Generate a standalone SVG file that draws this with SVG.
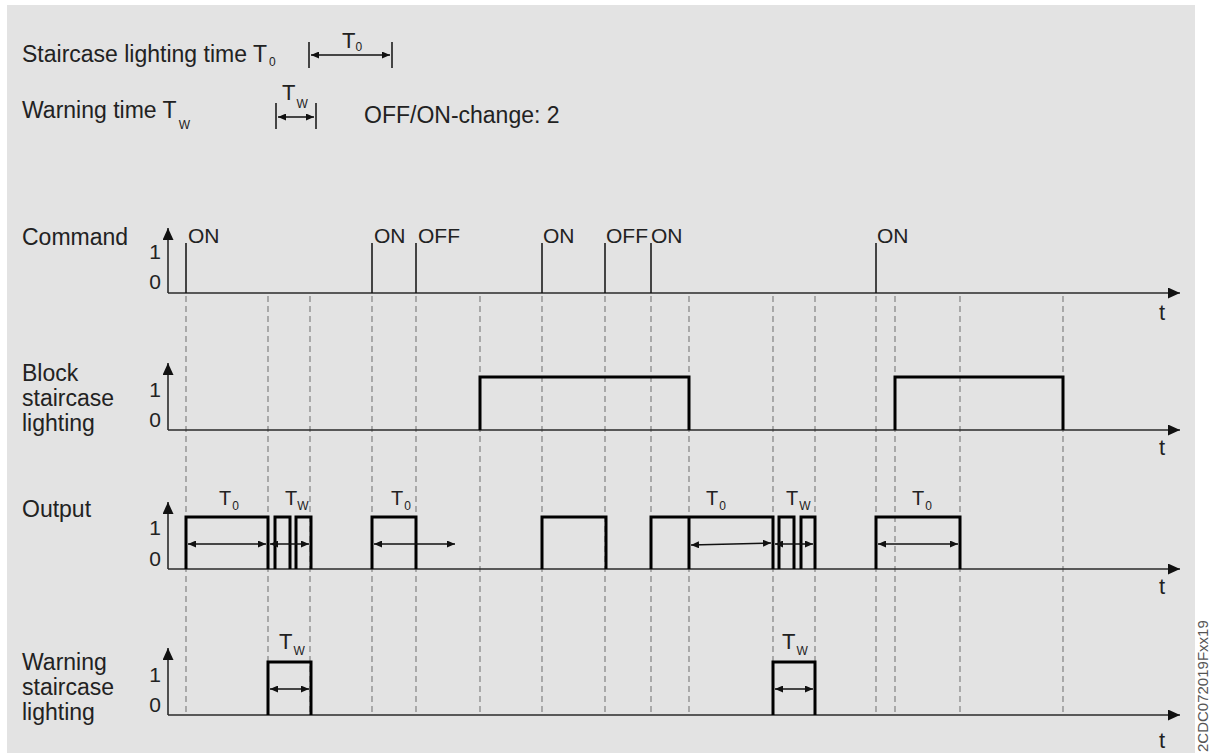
<svg xmlns="http://www.w3.org/2000/svg" width="1209" height="753" viewBox="0 0 1209 753">
<defs>
<marker id="ah" viewBox="0 0 8 7" refX="8" refY="3.5" markerWidth="8" markerHeight="7" markerUnits="userSpaceOnUse" orient="auto-start-reverse"><path d="M0,0 L8,3.5 L0,7 z" fill="#111"/></marker>
<marker id="axh" viewBox="0 0 12 11" refX="12" refY="5.5" markerWidth="12" markerHeight="11" markerUnits="userSpaceOnUse" orient="auto"><path d="M0,0 L12,5.5 L0,11 z" fill="#111"/></marker>
<style>
text{font-family:"Liberation Sans",Arial,sans-serif;fill:#222}
.lbl{font-size:23px}
.cmd{font-size:21px}
.big{font-size:20px}
.lbig{font-size:22px}
.sub{font-size:12px}
.num{font-size:21px;text-anchor:end}
.t{font-size:22px;text-anchor:middle}
.axis{stroke:#2a2a2a;stroke-width:1.6;fill:none}
.pulse{stroke:#000;stroke-width:3;fill:none;stroke-linejoin:miter}
.thin{stroke:#111;stroke-width:1.5;fill:none}
.dash{stroke:#7a7a7a;stroke-width:1.1;stroke-dasharray:6 4;fill:none}
.dim{stroke:#111;stroke-width:1.4;fill:none;marker-start:url(#ah);marker-end:url(#ah)}
.bar{stroke:#111;stroke-width:1.5}
</style>
</defs>
<rect x="0" y="0" width="1209" height="753" fill="#ffffff"/>
<rect x="7" y="5" width="1188" height="748" fill="#e3e3e3"/>

<g id="legend">
<text class="lbl" x="22" y="62">Staircase lighting time T<tspan class="sub" dx="2" dy="4">0</tspan></text>
<line class="bar" x1="309" y1="42" x2="309" y2="68"/>
<line class="bar" x1="392" y1="42" x2="392" y2="68"/>
<line class="dim" x1="311" y1="55" x2="390" y2="55"/>
<text class="lbig" x="342" y="48">T<tspan class="sub" dx="0" dy="3">0</tspan></text>
<text class="lbl" x="22" y="118">Warning time T<tspan class="sub" dx="2" dy="11">W</tspan></text>
<line class="bar" x1="276" y1="103" x2="276" y2="129"/>
<line class="bar" x1="316" y1="103" x2="316" y2="129"/>
<line class="dim" x1="278" y1="117" x2="314" y2="117"/>
<text class="lbig" x="282" y="100">T<tspan class="sub" dx="1" dy="8">W</tspan></text>
<text class="lbl" x="364" y="123">OFF/ON-change: 2</text>
</g>

<g id="connectors">
<path class="dash" d="M186,296V715M268,296V715M310,296V715M372,296V715M416,296V715M480,296V715M542,296V715M605,296V715M651,296V715M689,296V715M773,296V715M815,296V715M876,296V715M895,296V715M960,296V715M1063,296V715"/>
</g>

<g id="row-command">
<text class="lbl" x="22" y="245">Command</text>
<text class="num" x="161" y="259">1</text>
<text class="num" x="161" y="289">0</text>
<line class="axis" x1="168" y1="293" x2="168" y2="228" marker-end="url(#axh)"/>
<line class="axis" x1="168" y1="293" x2="1180" y2="293" marker-end="url(#axh)"/>
<text class="t" x="1162" y="320">t</text>
<path class="thin" d="M186,243V293M372,243V293M416,243V293M542,243V293M605,243V293M651,243V293M876,243V293"/>
<text class="cmd" x="188" y="243">ON</text>
<text class="cmd" x="374" y="243">ON</text>
<text class="cmd" x="418" y="243">OFF</text>
<text class="cmd" x="543" y="243">ON</text>
<text class="cmd" x="606" y="243">OFF</text>
<text class="cmd" x="651" y="243">ON</text>
<text class="cmd" x="877" y="243">ON</text>
</g>

<g id="row-block">
<text class="lbl" x="22" y="381">Block</text>
<text class="lbl" x="22" y="406">staircase</text>
<text class="lbl" x="22" y="431">lighting</text>
<text class="num" x="161" y="397">1</text>
<text class="num" x="161" y="427">0</text>
<line class="axis" x1="168" y1="430" x2="168" y2="363" marker-end="url(#axh)"/>
<line class="axis" x1="168" y1="430" x2="1180" y2="430" marker-end="url(#axh)"/>
<text class="t" x="1162" y="455">t</text>
<path class="pulse" d="M480,430V377H689V430M895,430V377H1063V430"/>
</g>

<g id="row-output">
<text class="lbl" x="22" y="517">Output</text>
<text class="num" x="161" y="535">1</text>
<text class="num" x="161" y="566">0</text>
<line class="axis" x1="168" y1="569" x2="168" y2="502" marker-end="url(#axh)"/>
<line class="axis" x1="168" y1="569" x2="1180" y2="569" marker-end="url(#axh)"/>
<text class="t" x="1162" y="594">t</text>
<path class="pulse" d="M186,569V517H268V569M275,569V517H290V569M296,569V517H311V569M372,569V517H416V569M542,569V517H606V569M651,569V517H773V569M689,517V569M779,569V517H794V569M801,569V517H815V569M876,569V517H960V569"/>
<line class="dim" x1="188" y1="544" x2="266" y2="544"/>
<line class="dim" x1="270" y1="544" x2="309" y2="544"/>
<line class="dim" x1="374" y1="544" x2="455" y2="544"/>
<line class="dim" x1="691" y1="545" x2="771" y2="543"/>
<line class="dim" x1="775" y1="544" x2="813" y2="544"/>
<line class="dim" x1="878" y1="544" x2="958" y2="544"/>
<text class="big" x="219" y="505">T<tspan class="sub" dx="1" dy="5">0</tspan></text>
<text class="big" x="285" y="505">T<tspan class="sub" dx="0" dy="5">W</tspan></text>
<text class="big" x="391" y="505">T<tspan class="sub" dx="1" dy="5">0</tspan></text>
<text class="big" x="706" y="505">T<tspan class="sub" dx="1" dy="5">0</tspan></text>
<text class="big" x="786" y="505">T<tspan class="sub" dx="1" dy="5">W</tspan></text>
<text class="big" x="912" y="505">T<tspan class="sub" dx="1" dy="5">0</tspan></text>
</g>

<g id="row-warning">
<text class="lbl" x="22" y="670">Warning</text>
<text class="lbl" x="22" y="695">staircase</text>
<text class="lbl" x="22" y="720">lighting</text>
<text class="num" x="161" y="682">1</text>
<text class="num" x="161" y="712">0</text>
<line class="axis" x1="168" y1="715" x2="168" y2="648" marker-end="url(#axh)"/>
<line class="axis" x1="168" y1="715" x2="1180" y2="715" marker-end="url(#axh)"/>
<text class="t" x="1162" y="748">t</text>
<path class="pulse" d="M268,715V662H311V715M773,715V662H815V715"/>
<line class="dim" x1="270" y1="689" x2="309" y2="689"/>
<line class="dim" x1="775" y1="689" x2="813" y2="689"/>
<text class="lbig" x="279" y="649">T<tspan class="sub" dx="1" dy="6">W</tspan></text>
<text class="lbig" x="782" y="649">T<tspan class="sub" dx="1" dy="6">W</tspan></text>
</g>

<text transform="translate(1208,752) rotate(-90)" style="font-size:15px;fill:#555">2CDC072019Fxx19</text>
</svg>
